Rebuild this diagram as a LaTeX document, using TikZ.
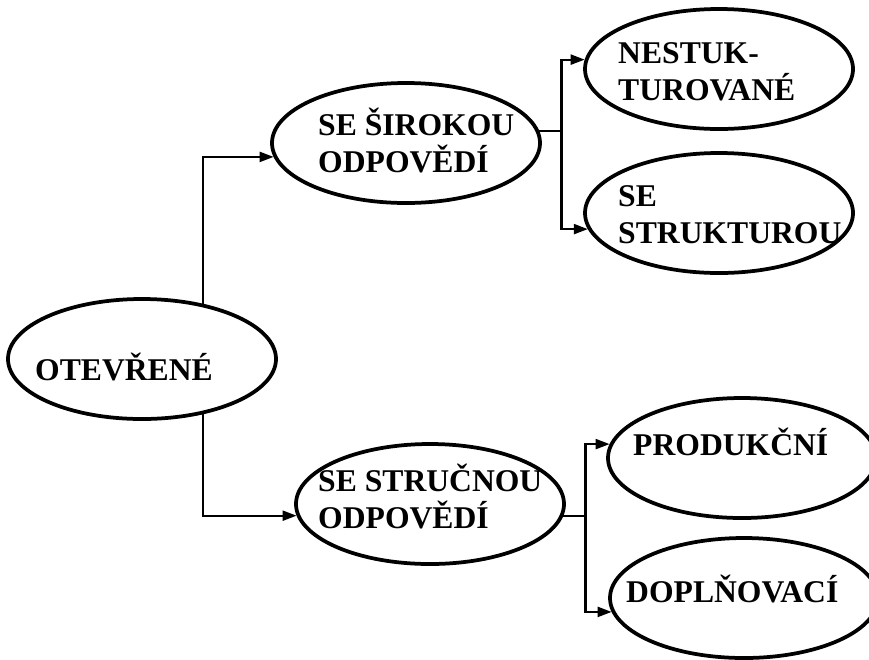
\documentclass[tikz,border=0pt]{standalone}
\usepackage{fontspec}
\setmainfont{Liberation Serif}
\usetikzlibrary{shapes.geometric}
\usetikzlibrary{arrows.meta}

\begin{document}
\begin{tikzpicture}[x=0.03cm,y=-0.03cm]
  % Styly pro elipsy, popisky a spojnice
  \tikzstyle{elipsa} = [draw, ellipse, line width=3.2pt, inner sep=0pt, minimum width=8.04cm, minimum height=3.6cm];
  \tikzstyle{popis} = [anchor=base west, inner sep=0pt, align=left, font=\fontsize{27}{31.5}\selectfont\bfseries];
  \tikzstyle{cara} = [line width=1.9pt];
  \tikzstyle{sipka} = [cara, -{Triangle[length=0.42cm,width=0.3cm]}];

  \useasboundingbox (0,0) rectangle (869,659);

  % Elipsy
  \node [elipsa] (otevrene) at (142,359) {};
  \node [elipsa] (siroka) at (406,143) {};
  \node [elipsa] (nestrukt) at (719,69) {};
  \node [elipsa] (struktura) at (719,213) {};
  \node [elipsa] (strucna) at (430,504) {};
  \node [elipsa] (produkcni) at (742,458) {};
  \node [elipsa] (doplnovaci) at (744,598) {};

  % Popisky v elipsach (base = posledni radek)
  \node [popis] (tOtevrene) at (35,380) {OTEVŘENÉ};
  \node [popis] (tSiroka) at (318,172) {SE ŠIROKOU\\ODPOVĚDÍ};
  \node [popis] (tNestrukt) at (618,100) {NESTUK-\\TUROVANÉ};
  \node [popis] (tStruktura) at (618,243) {SE\\STRUKTUROU};
  \node [popis] (tStrucna) at (318,528) {SE STRUČNOU\\ODPOVĚDÍ};
  \node [popis] (tProdukcni) at (633,455) {PRODUKČNÍ};
  \node [popis] (tDoplnovaci) at (626,602) {DOPLŇOVACÍ};

  % Spojnice
  \draw [sipka] (otevrene.42) |- (siroka.186);
  \draw [sipka] (otevrene.-42) |- (strucna.185);
  \draw [cara] (siroka.5) -- ++(22,0) coordinate (r1);
  \draw [sipka] (r1) |- (nestrukt.176);
  \draw [sipka] (r1) |- (struktura.187);
  \draw [cara] (strucna.-5) -- ++(22,0) coordinate (r2);
  \draw [sipka] (r2) |- (produkcni.174);
  \draw [sipka] (r2) |- (doplnovaci.186);
\end{tikzpicture}
\end{document}
